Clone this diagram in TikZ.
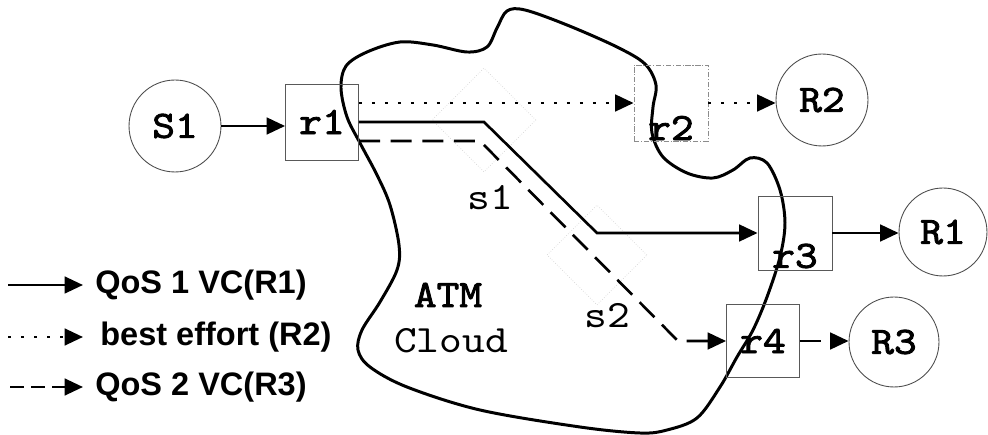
\documentclass[tikz,border=0pt]{standalone}
\usepackage{fontspec}
\setmainfont{Liberation Sans}
\newfontfamily\typewriter[FakeStretch=1.12]{lmmono10-regular.otf}
\newfontfamily\typewriterbold[FakeStretch=1.12,FakeBold=2.2]{lmmono10-regular.otf}
\usetikzlibrary{arrows.meta,shapes.geometric}

\begin{document}
\begin{tikzpicture}[x=0.02cm,y=-0.02cm,
  flow/.style={line width=1.5pt,-{Triangle[length=10.5pt,width=9.5pt]}},
  qosone/.style={flow},
  besteffort/.style={flow,dash pattern=on 1.7pt off 5.7pt},
  qostwo/.style={flow,dash pattern=on 12pt off 6pt},
  monolabel/.style={font=\typewriterbold\fontsize{22}{22}\selectfont},
  plainlabel/.style={font=\typewriter\fontsize{22}{22}\selectfont},
  station/.style={circle,draw=black!70,line width=0.5pt,inner sep=0pt,monolabel},
  router/.style={rectangle,draw=black!65,line width=0.5pt,inner sep=0pt,monolabel},
  switchghost/.style={diamond,draw=black!16,densely dotted,line width=0.4pt,
    minimum width=2.08cm,minimum height=2.08cm,inner sep=0pt},
  cloudline/.style={line width=1.7pt},
  legendtext/.style={anchor=west,inner sep=0pt,font=\bfseries\fontsize{18.5}{18.5}\selectfont}
]
\useasboundingbox (0,0) rectangle (988,435);

% ATM cloud outline
\draw[cloudline] plot[smooth cycle,tension=0.55] coordinates {
  (341,88) (346,66) (367,52) (400,42) (433,45) (467,52) (487,47)
  (497,28) (507,11) (525,10) (567,25) (617,47) (645,64)
  (656,85) (653,107) (652,133) (663,157) (687,173) (713,178)
  (733,170) (750,158) (767,163) (780,190) (785,223) (780,257)
  (767,297) (753,330) (737,357) (720,387) (697,418) (667,430)
  (640,433) (580,427) (480,410) (407,387) (370,367) (358,350)
  (362,330) (380,302) (397,270) (399,245) (390,205) (377,175)
  (360,143) (347,117)};

% faint switch outlines inside the cloud
\node[switchghost] (sw1) at (484,120) {};
\node[switchghost,minimum width=2.0cm,minimum height=2.0cm] (sw2) at (597,255) {};

% end stations
\node[station,minimum size=1.84cm] (S1) at (175,126) {S1};
\node[station,minimum size=1.84cm] (R2) at (822,100) {R2};
\node[station,minimum size=1.76cm] (R1) at (943,232) {R1};
\node[station,minimum size=1.80cm] (R3) at (894,342) {R3};

% routers
\node[router,minimum width=1.46cm,minimum height=1.52cm] (r1) at (322,122) {r1};
\node[router,draw=black!45,dash pattern=on 3pt off 1pt on 0.6pt off 1pt,
      minimum width=1.48cm,minimum height=1.52cm,
      label={[monolabel,yshift=-0.5cm]center:r2}] (r2) at (671,103) {};
\node[router,minimum width=1.48cm,minimum height=1.48cm,
      label={[monolabel,yshift=-0.46cm]center:r3}] (r3) at (795,233) {};
\node[router,minimum width=1.46cm,minimum height=1.46cm] (r4) at (763,341) {r4};

% labels inside the cloud
\node[plainlabel,anchor=base] (s1lbl) at (490,210) {s1};
\node[plainlabel,anchor=base] (s2lbl) at (607,328) {s2};
\node[monolabel,anchor=base] (atm) at (448,307) {ATM};
\node[plainlabel,anchor=base] (cloud) at (451,353) {Cloud};

% bends of the virtual circuits
\coordinate (q1a) at (484,122);
\coordinate (q1b) at (597,233);
\coordinate (q2s) at (359,141);
\coordinate (q2a) at (480,141);
\coordinate (q2b) at (678,341);

% connections
\draw[qosone] (S1.east) -- (S1.east -| r1.west);
\draw[besteffort] (r1.east |- r2.center) -- (r2.west);
\draw[besteffort] (r2.east) -- (r2.east -| R2.west);
\draw[qosone,line join=miter] (r1.east |- q1a) -- (q1a) -- (q1b) -- (q1b -| r3.west);
\draw[qosone] (r3.east) -- (r3.east -| R1.west);
\draw[qostwo] (q2s) -- (q2a) -- (q2b) -- (q2b -| r4.west);
\draw[qostwo] (r4.east) -- (r4.east -| R3.west);

% legend
\coordinate (k1a) at (8,285);  \coordinate (k1b) at (83,285);
\coordinate (k2a) at (8,337);  \coordinate (k2b) at (83,337);
\coordinate (k3a) at (10,387); \coordinate (k3b) at (83,387);
\draw[qosone] (k1a) -- (k1b);
\draw[besteffort] (k2a) -- (k2b);
\draw[flow,dash pattern=on 8pt off 4pt] (k3a) -- (k3b);
\node[legendtext] (k1) at (95,285) {QoS 1 VC(R1)};
\node[legendtext] (k2) at (100,337) {best effort (R2)};
\node[legendtext] (k3) at (95,387) {QoS 2 VC(R3)};
\end{tikzpicture}
\end{document}
